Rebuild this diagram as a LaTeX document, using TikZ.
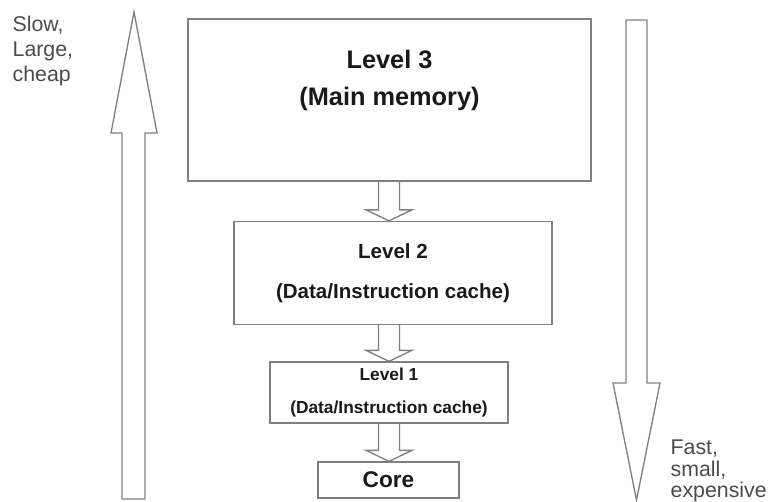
\documentclass[tikz,border=0pt]{standalone}
\usepackage{fontspec}
\setmainfont{Liberation Sans}
\usetikzlibrary{calc}

\definecolor{edgegray}{RGB}{128,128,128}
\definecolor{labelgray}{RGB}{75,75,75}

\tikzset{every picture/.style={line width=1pt}}
\tikzset{
	levelbox/.style={draw=edgegray, rectangle, align=center, inner sep=0pt, text=black!90},
	blockline/.style={draw=edgegray, line join=miter},
	sidetext/.style={anchor=west, align=left, inner sep=0pt, text=labelgray}
}

% hollow arrow from the bottom of one box to the top of the next
\newcommand{\blockarrow}[2]{%
	\draw [blockline] ($(axis |- #1.south)+(-10.5,0)$) -- ($(axis |- #2.north)+(-10.5,-11)$) -- ($(axis |- #2.north)+(-23,-11)$) -- (axis |- #2.north) -- ($(axis |- #2.north)+(23,-11)$) -- ($(axis |- #2.north)+(10.5,-11)$) -- ($(axis |- #1.south)+(10.5,0)$) ;}

\begin{document}
\begin{tikzpicture}[x=0.75pt,y=0.75pt,yscale=-1,xscale=1]
	\useasboundingbox (0,0) rectangle (774,501);
	\coordinate (axis) at (389,0);

	%Shape: Big up arrow
	\draw [blockline] (122,499) -- (122,133) -- (111,133) -- (134,12) -- (157,133) -- (145,133) -- (145,499) -- cycle ;
	%Shape: Big down arrow
	\draw [blockline] (626,20) -- (647,20) -- (647,383) -- (660,383) -- (636.5,500) -- (613,383) -- (626,383) -- cycle ;

	%Shape: Boxes
	\node [levelbox, minimum width=302.25pt, minimum height=121.5pt, text depth=34pt, font=\bfseries\fontsize{19}{27.75}\selectfont] (l3) at (389.5,100) {Level 3\\(Main memory)};
	\node [levelbox, minimum width=238.5pt, minimum height=77.25pt, font=\bfseries\fontsize{15.4}{30}\selectfont] (l2) at (393,273) {Level 2\\(Data/Instruction cache)};
	\node [levelbox, minimum width=178.5pt, minimum height=45.75pt, font=\bfseries\fontsize{13}{24.75}\selectfont] (l1) at (389,392.5) {Level 1\\(Data/Instruction cache)};
	\node [levelbox, minimum width=105.75pt, minimum height=27pt, font=\bfseries\fontsize{17}{20}\selectfont] (core) at (388.5,480) {Core};

	%Straight Lines: hollow arrows
	\blockarrow{l3}{l2}
	\blockarrow{l2}{l1}
	\blockarrow{l1}{core}

	% Text Node
	\node [sidetext, font=\fontsize{16}{19}\selectfont] (slow) at (12,51) {Slow,\\Large,\\cheap};
	% Text Node
	\node [sidetext, font=\fontsize{16}{16}\selectfont] (fast) at (670,471) {Fast,\\small,\\expensive};

\end{tikzpicture}
\end{document}
